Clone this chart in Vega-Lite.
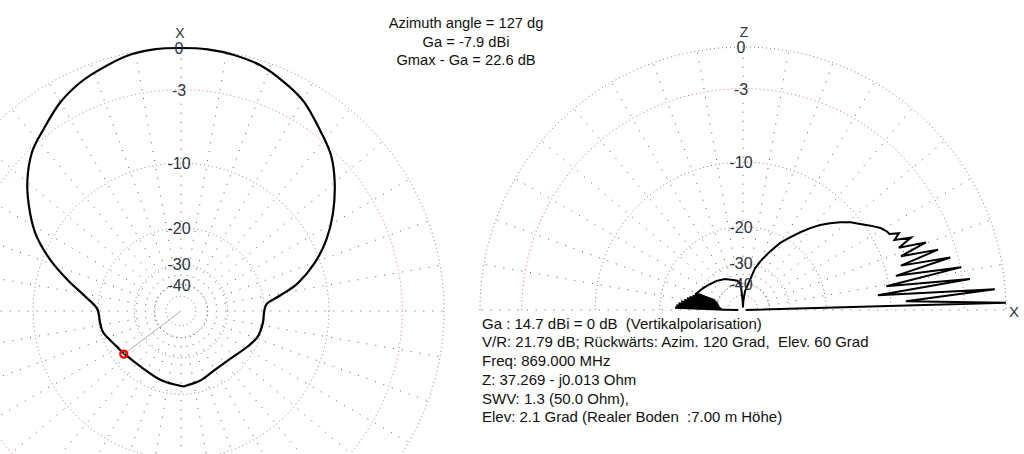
{
  "$schema": "https://vega.github.io/schema/vega-lite/v6.json",
  "background": "white",
  "padding": 0,
  "autosize": {"type": "pad"},
  "bounds": "flush",
  "spacing": 0,
  "config": {"view": {"stroke": null}, "font": "Liberation Sans", "text": {"font": "Liberation Sans"}},
  "resolve": {"scale": {"x": "independent", "y": "independent", "size": "independent", "color": "independent"}},
  "hconcat": [
    {
      "width": 462,
      "height": 454,
      "layer": [
        {
          "data": {"values": [{"a":0},{"a":10},{"a":20},{"a":30},{"a":40},{"a":50},{"a":60},{"a":70},{"a":80},{"a":90},{"a":100},{"a":110},{"a":120},{"a":130},{"a":140},{"a":150},{"a":160},{"a":170},{"a":180},{"a":190},{"a":200},{"a":210},{"a":220},{"a":230},{"a":240},{"a":250},{"a":260},{"a":270},{"a":280},{"a":290},{"a":300},{"a":310},{"a":320},{"a":330},{"a":340},{"a":350}]},
          "transform": [
            {"calculate": "0.1*sin(datum.a*PI/180)", "as": "x1"},
            {"calculate": "0.1*cos(datum.a*PI/180)", "as": "y1"},
            {"calculate": "sin(datum.a*PI/180)", "as": "x2"},
            {"calculate": "cos(datum.a*PI/180)", "as": "y2"}
          ],
          "mark": {"type": "rule", "clip": true, "strokeDash": [1, 8], "color": "#5a5a5a", "strokeWidth": 1},
          "encoding": {
            "x": {"field": "x1", "type": "quantitative", "scale": {"domain": [-0.6882, 1.0684], "nice": false, "zero": false}, "axis": null},
            "y": {"field": "y1", "type": "quantitative", "scale": {"domain": [-0.5437, 1.1825], "nice": false, "zero": false}, "axis": null},
            "x2": {"field": "x2"},
            "y2": {"field": "y2"}
          }
        },
        {
          "data": {"values": [{"db":0},{"db":-3},{"db":-10},{"db":-20},{"db":-30},{"db":-40},{"db":-50}]},
          "transform": [{"calculate": "pow(10, datum.db/20)", "as": "lin"}, {"calculate": "0", "as": "c"}],
          "mark": {"type": "point", "shape": "circle", "filled": false, "clip": true, "opacity": 1, "strokeDash": [1, 3], "strokeWidth": 1},
          "encoding": {
            "x": {"field": "c", "type": "quantitative"},
            "y": {"field": "c", "type": "quantitative"},
            "size": {"field": "lin", "type": "quantitative", "scale": {"domain": [0, 1], "range": [0, 276676], "zero": true}, "legend": null},
            "color": {"condition": {"test": "datum.db === -3", "value": "#ff6060"}, "value": "#808080"}
          }
        },
        {
          "data": {"values": [
            {"az":0,"db":0},{"az":5.9,"db":0},{"az":11.9,"db":-0.14},{"az":18.4,"db":-0.54},{"az":23.8,"db":-0.9},{"az":30.1,"db":-1.52},{"az":37.1,"db":-2.49},{"az":43.3,"db":-3.3},{"az":50.2,"db":-4.75},{"az":57,"db":-6.59},{"az":62.7,"db":-8.37},{"az":68.6,"db":-10.9},{"az":74.7,"db":-14.0},{"az":80.6,"db":-17.0},{"az":88.2,"db":-19.8},{"az":98.7,"db":-20.3},{"az":106.2,"db":-20.6},{"az":119.3,"db":-22.2},{"az":126.6,"db":-22.7},{"az":144.1,"db":-23.3},{"az":163.6,"db":-22.5},{"az":180,"db":-21.8},
            {"az":184.9,"db":-21.9},{"az":195.9,"db":-22.5},{"az":209.2,"db":-23.5},{"az":226.4,"db":-23.3},{"az":241.7,"db":-21.7},{"az":251.4,"db":-20.5},{"az":261.4,"db":-20.1},{"az":269.5,"db":-20.0},{"az":275.1,"db":-19.3},{"az":279.1,"db":-16.6},{"az":283.4,"db":-13.6},{"az":289.7,"db":-10.73},{"az":296.1,"db":-8.44},{"az":302.8,"db":-6.51},{"az":309.8,"db":-4.75},{"az":315.9,"db":-3.43},{"az":321.8,"db":-2.57},{"az":329.4,"db":-1.42},{"az":335.7,"db":-0.82},{"az":341.9,"db":-0.33},{"az":348.3,"db":-0.1},{"az":354.2,"db":0}
          ]},
          "transform": [
            {"calculate": "pow(10, datum.db/40)", "as": "r"},
            {"calculate": "-datum.r*sin(datum.az*PI/180)", "as": "px"},
            {"calculate": "datum.r*cos(datum.az*PI/180)", "as": "py"}
          ],
          "mark": {"type": "line", "interpolate": "cardinal-closed", "color": "#000000", "strokeWidth": 2.2, "clip": true},
          "encoding": {
            "x": {"field": "px", "type": "quantitative"},
            "y": {"field": "py", "type": "quantitative"},
            "order": {"field": "az", "type": "quantitative"}
          }
        },
        {
          "data": {"values": [{"az":127,"db":-22.6}]},
          "transform": [
            {"calculate": "pow(10, datum.db/40)", "as": "r"},
            {"calculate": "-datum.r*sin(datum.az*PI/180)", "as": "px"},
            {"calculate": "datum.r*cos(datum.az*PI/180)", "as": "py"},
            {"calculate": "0", "as": "c"}
          ],
          "mark": {"type": "rule", "color": "#b0b0b0", "strokeWidth": 1},
          "encoding": {
            "x": {"field": "c", "type": "quantitative"},
            "y": {"field": "c", "type": "quantitative"},
            "x2": {"field": "px"},
            "y2": {"field": "py"}
          }
        },
        {
          "data": {"values": [{"az":127,"db":-22.6}]},
          "transform": [
            {"calculate": "pow(10, datum.db/40)", "as": "r"},
            {"calculate": "-datum.r*sin(datum.az*PI/180)", "as": "px"},
            {"calculate": "datum.r*cos(datum.az*PI/180)", "as": "py"}
          ],
          "mark": {"type": "point", "shape": "circle", "filled": false, "opacity": 1, "color": "#ff0000", "strokeWidth": 2.2, "size": 50},
          "encoding": {
            "x": {"field": "px", "type": "quantitative"},
            "y": {"field": "py", "type": "quantitative"}
          }
        },
        {
          "data": {"values": [{"db":0,"t":"0"},{"db":-3,"t":"-3"},{"db":-10,"t":"-10"},{"db":-20,"t":"-20"},{"db":-30,"t":"-30"},{"db":-40,"t":"-40"}]},
          "transform": [{"calculate": "pow(10, datum.db/40)", "as": "py"}, {"calculate": "0", "as": "c"}],
          "mark": {"type": "text", "fontSize": 16, "color": "#2e3440", "dx": -2, "dy": 1, "baseline": "middle", "align": "center"},
          "encoding": {
            "x": {"field": "c", "type": "quantitative"},
            "y": {"field": "py", "type": "quantitative"},
            "text": {"field": "t"}
          }
        },
        {
          "data": {"values": [{"t":"X"}]},
          "mark": {"type": "text", "fontSize": 14, "color": "#2e3440", "dx": -1, "dy": -14, "baseline": "middle", "align": "center"},
          "encoding": {
            "x": {"datum": 0, "type": "quantitative"},
            "y": {"datum": 1, "type": "quantitative"},
            "text": {"field": "t"}
          }
        },
        {
          "data": {"values": [{"t":"head"}]},
          "mark": {"type": "text", "fontSize": 14.7, "color": "#111111", "align": "center", "baseline": "alphabetic", "lineHeight": 18.7,
                   "text": ["Azimuth angle = 127 dg", "Ga = -7.9 dBi", "Gmax - Ga = 22.6 dB"]},
          "encoding": {
            "x": {"datum": 1.0837, "type": "quantitative"},
            "y": {"datum": 1.076, "type": "quantitative"}
          }
        }
      ]
    },
    {
      "width": 562,
      "height": 454,
      "layer": [
        {
          "data": {"values": [{"a":0},{"a":10},{"a":20},{"a":30},{"a":40},{"a":50},{"a":60},{"a":70},{"a":80},{"a":90},{"a":100},{"a":110},{"a":120},{"a":130},{"a":140},{"a":150},{"a":160},{"a":170},{"a":180}]},
          "transform": [
            {"calculate": "0.1*cos(datum.a*PI/180)", "as": "x1"},
            {"calculate": "0.1*sin(datum.a*PI/180)", "as": "y1"},
            {"calculate": "cos(datum.a*PI/180)", "as": "x2"},
            {"calculate": "sin(datum.a*PI/180)", "as": "y2"}
          ],
          "mark": {"type": "rule", "clip": true, "strokeDash": [1, 8], "color": "#5a5a5a", "strokeWidth": 1},
          "encoding": {
            "x": {"field": "x1", "type": "quantitative", "scale": {"domain": [-1.0684, 1.0684], "nice": false, "zero": false}, "axis": null},
            "y": {"field": "y1", "type": "quantitative", "scale": {"domain": [-0.5475, 1.1787], "nice": false, "zero": false}, "axis": null},
            "x2": {"field": "x2"},
            "y2": {"field": "y2"}
          }
        },
        {
          "data": {"values": [{"db":0},{"db":-3},{"db":-10},{"db":-20},{"db":-30},{"db":-40},{"db":-50}]},
          "transform": [{"calculate": "pow(10, datum.db/20)", "as": "lin"}, {"calculate": "0", "as": "c"}],
          "mark": {"type": "point", "shape": "M-1,0A1,1,0,0,1,1,0", "filled": false, "clip": true, "opacity": 1, "strokeDash": [1, 3], "strokeWidth": 1},
          "encoding": {
            "x": {"field": "c", "type": "quantitative"},
            "y": {"field": "c", "type": "quantitative"},
            "size": {"field": "lin", "type": "quantitative", "scale": {"domain": [0, 1], "range": [0, 276676], "zero": true}, "legend": null},
            "color": {"condition": {"test": "datum.db === -3", "value": "#ff6060"}, "value": "#808080"}
          }
        },
        {
          "data": {"values": [
            {"e":0,"db":-80},{"e":1.6,"db":0},{"e":3.1,"db":-8.3},{"e":4.7,"db":-0.7},{"e":6.2,"db":-11.5},{"e":7.8,"db":-2.4},{"e":9.4,"db":-10.3},{"e":11.1,"db":-2.9},{"e":12.6,"db":-9.0},{"e":14.2,"db":-3.6},{"e":15.7,"db":-8.2},{"e":17.2,"db":-4.4},{"e":18.8,"db":-7.9},{"e":20.3,"db":-5.2},{"e":21.8,"db":-7.8},{"e":23.3,"db":-6.3},{"e":24.8,"db":-7.9},{"e":26.2,"db":-7.2},{"e":27.4,"db":-8.1},{"e":28.6,"db":-8.2},
            {"e":30.8,"db":-8.62},{"e":33.5,"db":-9.43},{"e":36.3,"db":-10.3},{"e":39.2,"db":-11.1},{"e":42.1,"db":-12.1},{"e":44.9,"db":-13.2},{"e":47.8,"db":-14.4},{"e":50.6,"db":-15.8},{"e":53.6,"db":-17.4},{"e":57.1,"db":-19.3},{"e":61,"db":-21.4},{"e":65.2,"db":-24.4},{"e":69.5,"db":-27.6},{"e":73.9,"db":-31.2},{"e":76.9,"db":-37.2},{"e":80.5,"db":-42},{"e":84,"db":-46},{"e":88,"db":-60},{"e":90,"db":-80},{"e":92,"db":-60},{"e":94.5,"db":-44.5},
            {"e":96.4,"db":-39.5},{"e":101,"db":-37.8},{"e":107.9,"db":-36.8},{"e":120.1,"db":-34.6},{"e":132.2,"db":-33},{"e":142.1,"db":-31.9},{"e":151.3,"db":-30.5},{"e":160.2,"db":-29.1},
            {"e":161.2,"db":-38},{"e":162.2,"db":-28.6},{"e":163.2,"db":-39},{"e":164.2,"db":-28},{"e":165.2,"db":-40},{"e":166.2,"db":-27.2},{"e":167.2,"db":-40.5},{"e":168.2,"db":-26.5},{"e":169.2,"db":-41},{"e":170.2,"db":-25.8},{"e":171.2,"db":-41.5},{"e":172.2,"db":-25},{"e":173.2,"db":-42},{"e":174.2,"db":-24.3},{"e":175.2,"db":-43},{"e":176.2,"db":-23.8},{"e":177.2,"db":-44},{"e":178.2,"db":-23.5},{"e":179.2,"db":-46},{"e":180,"db":-70}
          ]},
          "transform": [
            {"calculate": "pow(10, datum.db/40)", "as": "r"},
            {"calculate": "datum.r*cos(datum.e*PI/180)", "as": "px"},
            {"calculate": "datum.r*sin(datum.e*PI/180)", "as": "py"}
          ],
          "mark": {"type": "line", "color": "#000000", "strokeWidth": 2, "clip": true},
          "encoding": {
            "x": {"field": "px", "type": "quantitative"},
            "y": {"field": "py", "type": "quantitative"},
            "order": {"field": "e", "type": "quantitative"}
          }
        },
        {
          "data": {"values": [{"db":0,"t":"0"},{"db":-3,"t":"-3"},{"db":-10,"t":"-10"},{"db":-20,"t":"-20"},{"db":-30,"t":"-30"},{"db":-40,"t":"-40"}]},
          "transform": [{"calculate": "pow(10, datum.db/40)", "as": "py"}, {"calculate": "0", "as": "c"}],
          "mark": {"type": "text", "fontSize": 16, "color": "#2e3440", "dx": -2, "dy": 1, "baseline": "middle", "align": "center"},
          "encoding": {
            "x": {"field": "c", "type": "quantitative"},
            "y": {"field": "py", "type": "quantitative"},
            "text": {"field": "t"}
          }
        },
        {
          "data": {"values": [{"t":"Z"}]},
          "mark": {"type": "text", "fontSize": 14, "color": "#2e3440", "dx": 1, "dy": -14, "baseline": "middle", "align": "center"},
          "encoding": {
            "x": {"datum": 0, "type": "quantitative"},
            "y": {"datum": 1, "type": "quantitative"},
            "text": {"field": "t"}
          }
        },
        {
          "data": {"values": [{"t":"X"}]},
          "mark": {"type": "text", "fontSize": 15, "color": "#2e3440", "dx": 8, "dy": 2, "baseline": "middle", "align": "center"},
          "encoding": {
            "x": {"datum": 1, "type": "quantitative"},
            "y": {"datum": 0, "type": "quantitative"},
            "text": {"field": "t"}
          }
        },
        {
          "data": {"values": [{"t":"info"}]},
          "mark": {"type": "text", "fontSize": 15, "color": "#111111", "align": "left", "baseline": "alphabetic", "lineHeight": 18.7,
                   "text": ["Ga : 14.7 dBi = 0 dB \u00a0(Vertikalpolarisation)", "V/R: 21.79 dB; Rückwärts: Azim. 120 Grad, \u00a0Elev. 60 Grad", "Freq: 869.000 MHz", "Z: 37.269 - j0.013 Ohm", "SWV: 1.3 (50.0 Ohm),", "Elev: 2.1 Grad (Realer Boden \u00a0:7.00 m Höhe)"]},
          "encoding": {
            "x": {"datum": -0.9924, "type": "quantitative"},
            "y": {"datum": -0.0711, "type": "quantitative"}
          }
        }
      ]
    }
  ]
}
